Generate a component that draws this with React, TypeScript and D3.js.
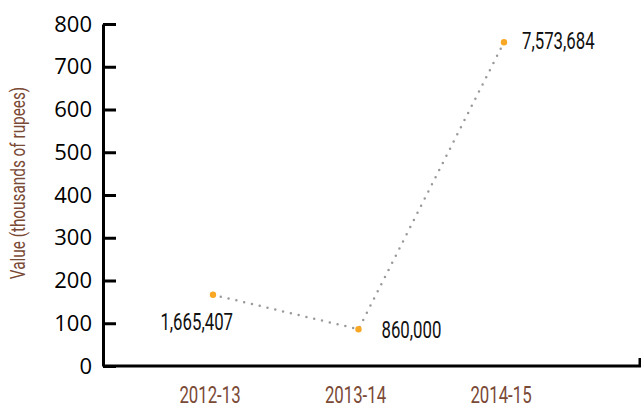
import React, { useEffect, useRef } from 'react';
import * as d3 from 'd3';

// 年度与数值（图中标注为原始金额，绘图值按 1/10000 缩放）
const years = ['2012-13', '2013-14', '2014-15'];
const rawValues = [1665407, 860000, 7573684];
const plotValues = [166.5407, 86, 757.3684];
const yTicks = [0, 100, 200, 300, 400, 500, 600, 700, 800];

const W = 641;
const H = 408;
// 没有窄体字体，用 Roboto 横向压缩来模拟
const condensed = 'Roboto, sans-serif';
const squeeze = 0.73;
const brown = '#7b4a36';

const App: React.FC = () => {
  const ref = useRef<SVGSVGElement>(null);

  useEffect(() => {
    const svg = d3.select(ref.current);
    svg.selectAll('*').remove();

    const left = 103;
    const right = 640;
    const y = d3.scaleLinear().domain([0, 800]).range([366, 24]);
    const x = d3.scalePoint<string>().domain(years).range([213, 504]);

    // y 轴
    const yAxis = svg.append('g')
      .attr('transform', `translate(${left},0)`)
      .call(d3.axisLeft(y).tickValues(yTicks).tickSizeInner(-13).tickSizeOuter(0).tickPadding(11).tickFormat(d3.format('d')));
    yAxis.select('.domain').attr('stroke', '#000').attr('stroke-width', 3);
    yAxis.selectAll('.tick line').attr('stroke', '#000').attr('stroke-width', 3);
    yAxis.selectAll('.tick text')
      .attr('fill', '#000')
      .style('font-family', '"Open Sans", sans-serif')
      .style('font-size', '22px');

    // x 轴
    svg.append('path')
      .attr('d', `M${left},${y(0)}H${right}V${y(0) - 8}`)
      .attr('fill', 'none')
      .attr('stroke', '#000')
      .attr('stroke-width', 3);

    svg.selectAll('.xlabel')
      .data(years)
      .enter()
      .append('text')
      .attr('transform', d => `translate(${(x(d) || 0) - 3},403) scale(${squeeze},1)`)
      .attr('text-anchor', 'middle')
      .attr('fill', brown)
      .style('font-family', condensed)
      .style('font-size', '23px')
      .text(d => d);

    // y 轴标题
    svg.append('text')
      .attr('transform', `translate(25,183) rotate(-90) scale(${squeeze},1)`)
      .attr('text-anchor', 'middle')
      .attr('fill', brown)
      .style('font-family', condensed)
      .style('font-size', '21px')
      .text('Value (thousands of rupees)');

    const pts = years.map((yr, i) => ({ yr, v: plotValues[i], raw: rawValues[i] }));

    // 点线
    const line = d3.line<typeof pts[0]>()
      .x(d => x(d.yr) || 0)
      .y(d => y(d.v));
    svg.append('path')
      .datum(pts)
      .attr('d', line)
      .attr('fill', 'none')
      .attr('stroke', '#999')
      .attr('stroke-width', 2.5)
      .attr('stroke-linecap', 'round')
      .attr('stroke-dasharray', '0 8');

    svg.selectAll('.dot')
      .data(pts)
      .enter()
      .append('circle')
      .attr('cx', d => x(d.yr) || 0)
      .attr('cy', d => y(d.v))
      .attr('r', 3.2)
      .attr('fill', '#f9a825');

    // 数值标签
    const offsets = [
      { dx: 20, dy: 35, anchor: 'end' },
      { dx: 23, dy: 9, anchor: 'start' },
      { dx: 18, dy: 7, anchor: 'start' },
    ];
    svg.selectAll('.vlabel')
      .data(pts)
      .enter()
      .append('text')
      .attr('transform', (d, i) => `translate(${(x(d.yr) || 0) + offsets[i].dx},${y(d.v) + offsets[i].dy}) scale(${squeeze},1)`)
      .attr('text-anchor', (_d, i) => offsets[i].anchor)
      .attr('fill', '#111')
      .style('font-family', condensed)
      .style('font-size', '23px')
      .text(d => d3.format(',')(d.raw));
  }, []);

  return <svg ref={ref} width={W} height={H} style={{ position: 'absolute', left: 0, top: 0, background: '#fff' }} />;
};

export default App;
